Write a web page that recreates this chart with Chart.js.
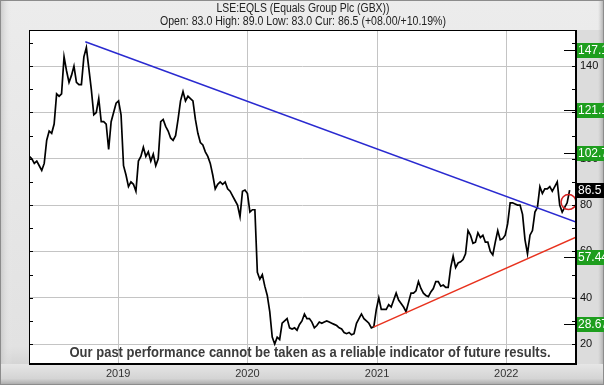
<!DOCTYPE html>
<html>
<head>
<meta charset="utf-8">
<script src="https://cdn.jsdelivr.net/npm/chart.js@4"></script>
<style>
  html, body { margin: 0; padding: 0; background: #e2e2e2; }
  #wrap { width: 604px; height: 385px; }
</style>
</head>
<body>
<div id="wrap"><canvas id="chart" width="604" height="385"></canvas></div>
<script>
// weekly closes (GBX), first week starting 2018-04-25
var startDate = "2018-04-25";
var closes = [
  101, 100, 98, 99, 97, 95, 98, 108, 112, 111,
  115, 128, 127, 128, 144, 138, 133, 136, 140, 133,
  132, 132, 144, 148, 139, 130, 119, 120, 126, 116,
  116, 115, 104, 116, 120, 124, 125, 119, 97, 93,
  88, 90, 89, 86, 99, 101, 105, 101, 103, 99,
  102, 97, 100, 116, 117, 114, 112, 109, 108, 110,
  117, 125, 129, 125, 127, 126, 125, 117, 111, 107,
  106, 103, 101, 98, 93, 87, 89, 90, 89, 90,
  87, 86, 84, 82, 80, 75, 86, 86.5, 85, 77,
  78, 78, 51, 48, 50, 45, 41, 34, 23, 20,
  23, 22, 29, 30, 31, 27, 26.5, 27, 26, 28.5,
  30, 33, 31, 31, 29.5, 27, 28, 29.5, 29, 29.5,
  30, 29.5, 29, 28.5, 28, 27, 26.5, 25, 24.5, 25,
  24, 24.5, 29, 31, 33, 31, 30, 29, 27, 27.5,
  35, 40, 35, 35, 35, 37, 36, 39, 42, 39,
  37.5, 36, 34, 38, 42, 42, 43, 47, 44, 42,
  41, 40.5, 42.5, 44, 47, 47, 45, 45.5, 44.5, 44.5,
  53, 58, 53, 55, 55.5, 56.5, 59, 69, 67, 63.5,
  64, 68, 66, 67, 64, 64, 60, 58.5, 64, 69,
  65, 65.5, 67, 72, 81, 81, 80.5, 80, 80, 76,
  65, 59, 67, 69, 77, 79, 88, 85, 87, 87,
  88, 86, 88, 90, 80, 77, 79, 81, 86.5
];

var yearTicks = [2019, 2020, 2021, 2022];
var priceTicks = [20, 40, 60, 80, 100, 120, 140];
var minorTicks = [20, 30, 40, 50, 60, 70, 80, 90, 100, 110, 120, 130, 140, 150];

// target levels shown on the right
var levels = [147.1, 121.1, 102.7, 57.44, 28.67];
var levelLabels = ["147.1", "121.1", "102.7", "57.44", "28.67"];
var current = 86.5;

var resistanceDates = ["2018-09-30", "2022-07-17"];
var resistanceValues = [150.5, 72.7];
var supportDates = ["2020-12-22", "2022-07-17"];
var supportValues = [27.3, 66.2];
var markerDate = "2022-06-26";
var markerValue = 81.3;

var xMin = "2018-04-24";
var xMax = "2022-07-17";

var DAY = 86400000;
var t0 = Date.parse(startDate);
var pricePoints = closes.map(function (v, i) { return { x: t0 + i * 7 * DAY, y: v }; });
function pts(dates, vals) {
  return dates.map(function (d, i) { return { x: Date.parse(d), y: vals[i] }; });
}

var framePlugin = {
  id: "frame",
  beforeDraw: function (chart) {
    var c = chart.ctx, W = chart.width, H = chart.height, a = chart.chartArea;
    c.save();
    var g = c.createLinearGradient(0, 0, 0, H);
    g.addColorStop(0, "#ececec");
    g.addColorStop(0.9, "#e2e2e2");
    g.addColorStop(1, "#c4c4c4");
    c.fillStyle = g;
    c.fillRect(0, 0, W, H);
    // left bevel
    var gl = c.createLinearGradient(0, 0, 12, 0);
    gl.addColorStop(0, "#c8c8c8");
    gl.addColorStop(1, "rgba(236,236,236,0)");
    c.fillStyle = gl;
    c.fillRect(0, 0, 12, H);
    // right panel
    c.fillStyle = "#dcdcdc";
    c.fillRect(a.right, a.top, W - a.right, a.bottom - a.top);
    var gr = c.createLinearGradient(W - 6, 0, W, 0);
    gr.addColorStop(0, "rgba(190,190,190,0)");
    gr.addColorStop(1, "#a8a8a8");
    c.fillStyle = gr;
    c.fillRect(W - 6, 0, 6, H);
    // bottom band
    var gb = c.createLinearGradient(0, a.bottom, 0, H);
    gb.addColorStop(0, "#e6e6e6");
    gb.addColorStop(0.7, "#d4d4d4");
    gb.addColorStop(1, "#a6a6a6");
    c.fillStyle = gb;
    c.fillRect(0, a.bottom, W, H - a.bottom);
    c.strokeStyle = "#8c8c8c";
    c.lineWidth = 1;
    c.strokeRect(0.5, 0.5, W - 1, H - 1);
    // plot background
    c.fillStyle = "#ffffff";
    c.fillRect(a.left, a.top, a.right - a.left, a.bottom - a.top);
    c.restore();
  },
  afterDraw: function (chart) {
    var c = chart.ctx, a = chart.chartArea, y = chart.scales.y;
    c.save();
    // plot border
    c.strokeStyle = "#000";
    c.lineWidth = 1;
    c.strokeRect(a.left + 0.5, a.top + 0.5, a.right - a.left - 1, a.bottom - a.top - 1);
    // minor ticks, left and right
    c.beginPath();
    minorTicks.forEach(function (v) {
      var py = Math.round(y.getPixelForValue(v)) + 0.5;
      c.moveTo(a.left, py); c.lineTo(a.left + 4, py);
      c.moveTo(a.right - 4, py); c.lineTo(a.right, py);
    });
    c.stroke();

    c.font = "12px 'Liberation Sans', Arial, sans-serif";
    c.textBaseline = "middle";
    c.textAlign = "left";
    // level labels
    levels.forEach(function (v, i) {
      var py = Math.round(y.getPixelForValue(v));
      c.strokeStyle = "#000";
      c.beginPath();
      c.moveTo(a.right - 12, py + 0.5); c.lineTo(a.right, py + 0.5);
      c.stroke();
      c.fillStyle = "#1e9e1e";
      c.fillRect(a.right + 1, py - 7, 40, 15);
      c.fillStyle = "#ffffff";
      c.fillText(levelLabels[i], a.right + 2, py + 1);
    });
    var cy = Math.round(y.getPixelForValue(current));
    c.fillStyle = "#000";
    c.fillRect(a.right + 1, cy - 7, 40, 15);
    c.fillStyle = "#fff";
    c.fillText(String(current), a.right + 2, cy + 1);

    // titles
    function fitText(txt, cx, cyy, width, font, color) {
      c.font = font;
      c.fillStyle = color;
      c.textAlign = "center";
      c.textBaseline = "middle";
      var w = c.measureText(txt).width;
      c.save();
      c.translate(cx, cyy);
      c.scale(width / w, 1);
      c.fillText(txt, 0, 0);
      c.restore();
    }
    fitText("LSE:EQLS (Equals Group Plc (GBX))", 303, 9, 173, "12px 'Liberation Sans', Arial, sans-serif", "#222");
    fitText("Open: 83.0 High: 89.0 Low: 83.0 Cur: 86.5 (+08.00/+10.19%)", 303, 22, 286, "12px 'Liberation Sans', Arial, sans-serif", "#222");
    fitText("Our past performance cannot be taken as a reliable indicator of future results.", 310, 353, 481, "bold 15px 'Liberation Sans', Arial, sans-serif", "#3c3c3c");
    c.restore();
  }
};

new Chart(document.getElementById("chart"), {
  type: "line",
  data: {
    datasets: [
      {
        label: "EQLS",
        data: pricePoints,
        borderColor: "#000000",
        borderWidth: 1.7,
        pointRadius: 0,
        tension: 0,
        order: 3
      },
      {
        label: "Resistance",
        data: pts(resistanceDates, resistanceValues),
        borderColor: "#2a2ad0",
        borderWidth: 1.5,
        pointRadius: 0,
        order: 1
      },
      {
        label: "Support",
        data: pts(supportDates, supportValues),
        borderColor: "#e8321e",
        borderWidth: 1.5,
        pointRadius: 0,
        order: 2
      },
      {
        label: "Marker",
        data: [{ x: Date.parse(markerDate), y: markerValue }],
        showLine: false,
        pointRadius: 7.5,
        pointBorderWidth: 1.5,
        pointBorderColor: "#d42020",
        pointBackgroundColor: "rgba(0,0,0,0)",
        order: 0
      }
    ]
  },
  options: {
    responsive: false,
    animation: false,
    layout: { padding: { left: 29, top: 30, right: 0, bottom: 0 } },
    plugins: { legend: { display: false }, tooltip: { enabled: false } },
    scales: {
      x: {
        type: "linear",
        min: Date.parse(xMin),
        max: Date.parse(xMax),
        afterBuildTicks: function (s) {
          s.ticks = yearTicks.map(function (yr) { return { value: Date.UTC(yr, 0, 1) }; });
        },
        afterFit: function (s) { s.height = 21; },
        ticks: {
          callback: function (v) { return new Date(v).getUTCFullYear(); },
          color: "#333",
          font: { size: 11, family: "'Liberation Sans', Arial, sans-serif" },
          maxRotation: 0,
          padding: 3
        },
        grid: { color: "#c4c4c4", drawTicks: false },
        border: { color: "#000" }
      },
      y: {
        position: "right",
        min: 11.4,
        max: 155.6,
        afterBuildTicks: function (s) {
          s.ticks = priceTicks.map(function (v) { return { value: v }; });
        },
        afterFit: function (s) { s.width = 28; },
        ticks: {
          color: "#111",
          font: { size: 11, family: "'Liberation Sans', Arial, sans-serif" },
          padding: 4
        },
        grid: { color: "#c4c4c4", drawTicks: false },
        border: { color: "#000" }
      }
    }
  },
  plugins: [framePlugin]
});
</script>
</body>
</html>
